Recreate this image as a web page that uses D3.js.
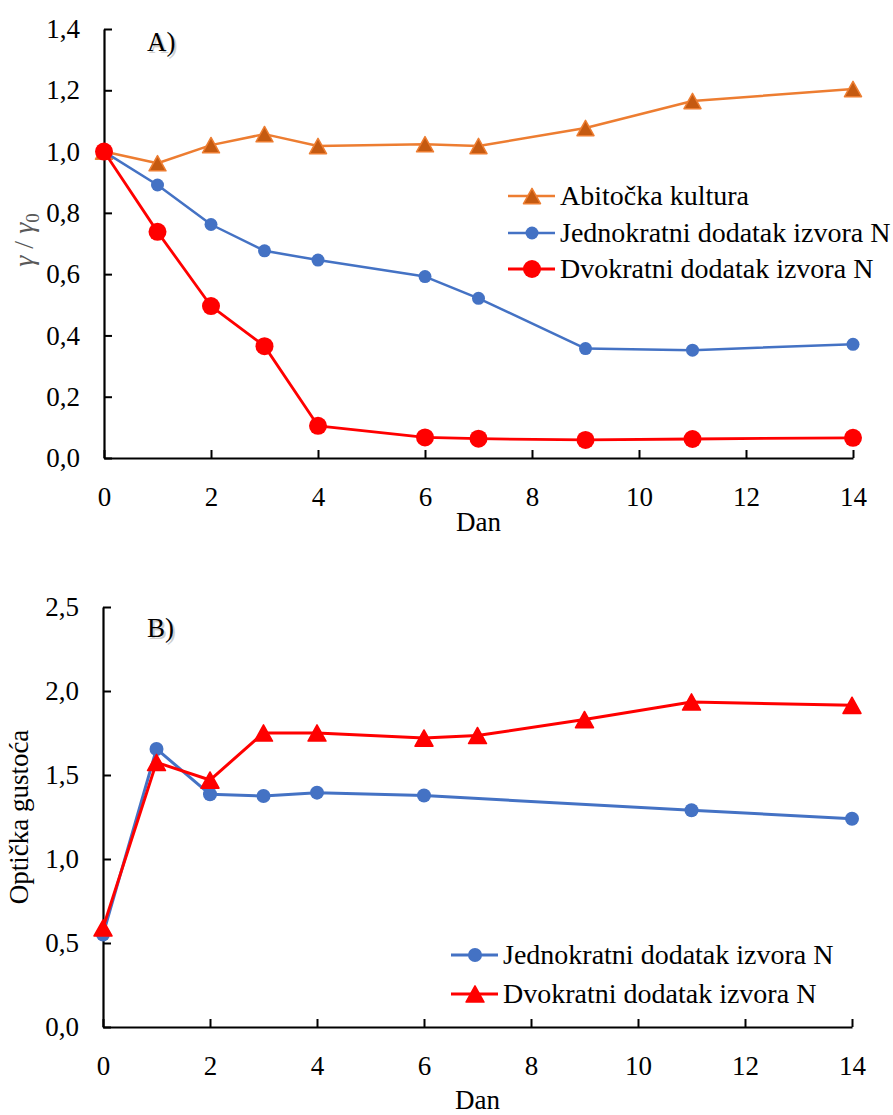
<!DOCTYPE html>
<html>
<head>
<meta charset="utf-8">
<script src="https://cdn.jsdelivr.net/npm/d3@7"></script>
<style>
  html, body { margin: 0; padding: 0; background: #fff; }
  svg { display: block; }
  text { font-family: "Liberation Serif", "Times New Roman", serif; }
</style>
</head>
<body>
<svg id="chart" width="893" height="1115"></svg>
<script>
// ---------- Data ----------
const daysA = [0, 1, 2, 3, 4, 6, 7, 9, 11, 14];
const abioticA = [1.0, 0.962, 1.021, 1.057, 1.018, 1.024, 1.018, 1.077, 1.165, 1.204];
const singleA  = [1.0, 0.891, 0.762, 0.676, 0.646, 0.592, 0.521, 0.357, 0.352, 0.371];
const doubleA  = [1.0, 0.738, 0.496, 0.365, 0.105, 0.067, 0.063, 0.059, 0.062, 0.066];

const daysSingleB = [0, 1, 2, 3, 4, 6, 11, 14];
const singleB = [0.55, 1.655, 1.385, 1.375, 1.395, 1.378, 1.29, 1.24];
const daysDoubleB = [0, 1, 2, 3, 4, 6, 7, 9, 11, 14];
const doubleB = [0.59, 1.575, 1.47, 1.75, 1.75, 1.72, 1.735, 1.83, 1.935, 1.915];

const xTicks = [0, 2, 4, 6, 8, 10, 12, 14];
const yTicksA = [0, 0.2, 0.4, 0.6, 0.8, 1.0, 1.2, 1.4];
const yTicksB = [0, 0.5, 1.0, 1.5, 2.0, 2.5];

const seriesNamesA = ["Abitočka kultura", "Jednokratni dodatak izvora N", "Dvokratni dodatak izvora N"];
const seriesNamesB = ["Jednokratni dodatak izvora N", "Dvokratni dodatak izvora N"];

const C_ORANGE = "#ED7D31", C_ORANGE_DARK = "#C55A11", C_BLUE = "#4472C4", C_RED = "#FF0000";

// ---------- Helpers ----------
const svg = d3.select("#chart");
const fmt = v => d3.format(".1f")(v).replace(".", ",");
const FS = 27;
const FS_LEG = 28;
const FONT = '"Liberation Serif", "Times New Roman", serif';

function zip(xs, ys) { return xs.map((x, i) => ({x, y: ys[i]})); }

function drawAxes(g, x, y, yTicks, xTitleY) {
  const [x0, x1] = x.range();
  const [yb, yt] = y.range();
  const ax = g.append("g").attr("transform", `translate(0,${yb})`)
    .call(d3.axisBottom(x).tickValues(xTicks).tickSizeInner(-8).tickSizeOuter(0).tickPadding(29).tickFormat(d3.format("d")));
  const ay = g.append("g").attr("transform", `translate(${x0},0)`)
    .call(d3.axisLeft(y).tickValues(yTicks).tickSizeInner(-8).tickSizeOuter(0).tickPadding(24).tickFormat(fmt));
  [ax, ay].forEach(a => {
    a.attr("font-family", FONT);
    a.select(".domain").attr("stroke", "#000").attr("stroke-width", 2.2);
    a.selectAll(".tick line").attr("stroke", "#000").attr("stroke-width", 2);
    a.selectAll(".tick text").attr("fill", "#000").style("font-size", FS + "px")
      .style("font-family", FONT);
  });
  g.append("text").attr("x", (x0 + x1) / 2).attr("y", xTitleY).attr("text-anchor", "middle")
    .style("font-size", FS + "px").style("font-family", FONT).text("Dan");
}

function triangle(sel, cx, cy, size, fill, stroke) {
  const h = size * 0.9, w = size;
  sel.append("path")
    .attr("d", `M${cx},${cy - h / 2}L${cx + w / 2},${cy + h / 2}L${cx - w / 2},${cy + h / 2}Z`)
    .attr("fill", fill).attr("stroke", stroke).attr("stroke-width", 1.5).attr("stroke-linejoin", "round");
}

function drawSeries(g, x, y, data, color, lw, marker, msize, mfill, mstroke) {
  const line = d3.line().x(d => x(d.x)).y(d => y(d.y));
  g.append("path").datum(data).attr("d", line).attr("fill", "none")
    .attr("stroke", color).attr("stroke-width", lw).attr("stroke-linejoin", "round");
  data.forEach(d => {
    if (marker === "circle") {
      g.append("circle").attr("cx", x(d.x)).attr("cy", y(d.y)).attr("r", msize).attr("fill", mfill);
    } else {
      triangle(g, x(d.x), y(d.y), msize, mfill, mstroke);
    }
  });
}

function legendItem(g, lx, ly, color, lw, marker, msize, mfill, mstroke, label) {
  g.append("line").attr("x1", lx).attr("x2", lx + 47).attr("y1", ly).attr("y2", ly)
    .attr("stroke", color).attr("stroke-width", lw);
  if (marker === "circle") {
    g.append("circle").attr("cx", lx + 24).attr("cy", ly).attr("r", msize).attr("fill", mfill);
  } else {
    triangle(g, lx + 24, ly, msize, mfill, mstroke);
  }
  g.append("text").attr("x", lx + 52).attr("y", ly + 9).style("font-size", FS_LEG + "px")
    .style("font-family", FONT).attr("fill", "#000").text(label);
}

function panelLabel(g, px, py, txt) {
  g.append("text").attr("x", px + 2).attr("y", py + 2).style("font-size", FS + "px")
    .style("font-family", FONT).attr("fill", "#bbb").attr("opacity", 0.7).text(txt);
  g.append("text").attr("x", px).attr("y", py).style("font-size", FS + "px")
    .style("font-family", FONT).attr("fill", "#000").text(txt);
}

// ---------- Panel A ----------
{
  const g = svg.append("g");
  const x = d3.scaleLinear().domain([0, 14]).range([104, 853]);
  const y = d3.scaleLinear().domain([0, 1.4]).range([458, 29]);
  drawAxes(g, x, y, yTicksA, 531);

  // y title
  const yt = g.append("text").attr("transform", "translate(33,240) rotate(-90)")
    .attr("text-anchor", "middle").attr("fill", "#595959").style("font-size", "28px").style("font-family", FONT);
  yt.append("tspan").style("font-style", "italic").text("γ");
  yt.append("tspan").text(" / ");
  yt.append("tspan").style("font-style", "italic").text("γ");
  yt.append("tspan").attr("dy", 6).style("font-size", "19px").text("0");

  panelLabel(g, 147, 51, "A)");

  drawSeries(g, x, y, zip(daysA, abioticA), C_ORANGE, 2.5, "tri", 17, C_ORANGE_DARK, C_ORANGE);
  drawSeries(g, x, y, zip(daysA, singleA), C_BLUE, 2.5, "circle", 6.5, C_BLUE);
  drawSeries(g, x, y, zip(daysA, doubleA), C_RED, 2.8, "circle", 9, C_RED);

  legendItem(g, 508, 196, C_ORANGE, 2.5, "tri", 17, C_ORANGE_DARK, C_ORANGE, seriesNamesA[0]);
  legendItem(g, 508, 233, C_BLUE, 2.5, "circle", 6.5, C_BLUE, null, seriesNamesA[1]);
  legendItem(g, 508, 269, C_RED, 2.8, "circle", 9, C_RED, null, seriesNamesA[2]);
}

// ---------- Panel B ----------
{
  const g = svg.append("g");
  const x = d3.scaleLinear().domain([0, 14]).range([103, 852]);
  const y = d3.scaleLinear().domain([0, 2.5]).range([1027, 607]);
  drawAxes(g, x, y, yTicksB, 1109);

  g.append("text").attr("transform", "translate(28,817) rotate(-90)")
    .attr("text-anchor", "middle").attr("fill", "#000").style("font-size", FS + "px")
    .style("font-family", FONT).text("Optička gustoća");

  panelLabel(g, 147, 637, "B)");

  drawSeries(g, x, y, zip(daysSingleB, singleB), C_BLUE, 3, "circle", 7, C_BLUE);
  drawSeries(g, x, y, zip(daysDoubleB, doubleB), C_RED, 3, "tri", 18, C_RED, C_RED);

  legendItem(g, 451, 955, C_BLUE, 3, "circle", 7, C_BLUE, null, seriesNamesB[0]);
  legendItem(g, 451, 994, C_RED, 3, "tri", 18, C_RED, C_RED, seriesNamesB[1]);
}
</script>
</body>
</html>
